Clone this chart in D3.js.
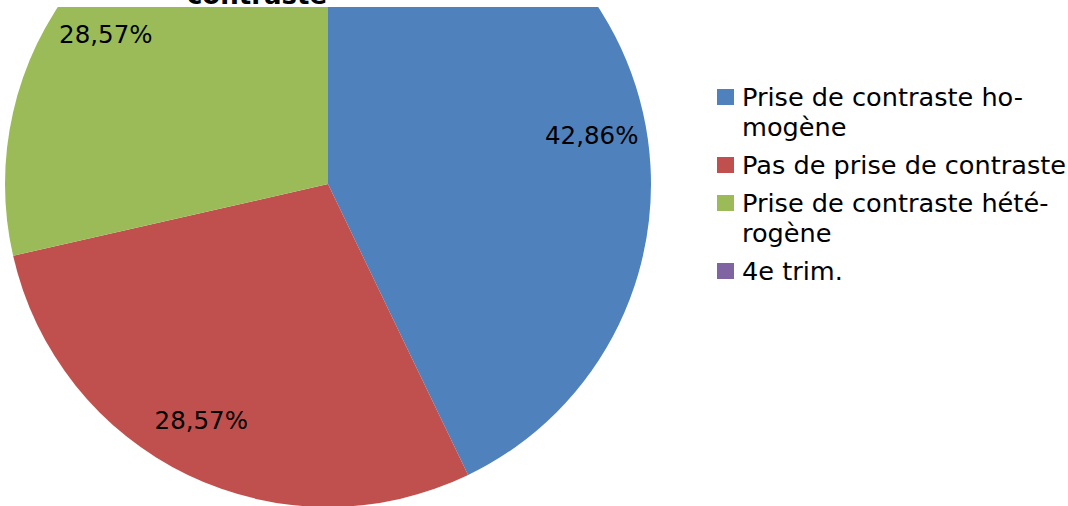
<!DOCTYPE html>
<html>
<head>
<meta charset="utf-8">
<script src="https://cdn.jsdelivr.net/npm/d3@7"></script>
<style>
  html, body { margin: 0; padding: 0; background: #fff; }
  svg { display: block; }
  text { font-family: "DejaVu Sans", sans-serif; }
</style>
</head>
<body>
<svg id="chart" width="1068" height="506"></svg>
<script>
const categories = ["Prise de contraste homogène", "Pas de prise de contraste", "Prise de contraste hétérogène", "4e trim."];
const legendLines = [["Prise de contraste ho-", "mogène"], ["Pas de prise de contraste"], ["Prise de contraste hété-", "rogène"], ["4e trim."]];
const values = [3, 2, 2, 0];
const colors = ["#4F81BD", "#C0504D", "#9BBB59", "#8064A2"];
const titleText = "contraste";

const svg = d3.select("#chart");
const cx = 328, cy = 184, R = 323;
const plotTop = 7;

svg.append("defs").append("clipPath").attr("id", "plotClip")
  .append("rect").attr("x", 0).attr("y", plotTop).attr("width", 700).attr("height", 506);

// Title (only its last line is visible in the frame)
svg.append("text")
  .attr("x", 257).attr("y", 4)
  .attr("text-anchor", "middle")
  .attr("font-size", 26).attr("font-weight", "bold")
  .attr("fill", "#000")
  .text(titleText);

const total = d3.sum(values);
const pie = d3.pie().sort(null).value(d => d)(values);
const arc = d3.arc().innerRadius(0).outerRadius(R);

const g = svg.append("g").attr("clip-path", "url(#plotClip)")
  .append("g").attr("transform", `translate(${cx},${cy})`);

g.selectAll("path").data(pie).join("path")
  .attr("d", arc)
  .attr("fill", (d, i) => colors[i]);

// label placement: on a circle of 0.83R, slid along it to stay below the plot top
const rl = R * 0.83, angOff = 2.5 * Math.PI / 180, minY = plotTop + 27 - cy;
function labelPos(d) {
  const a = (d.startAngle + d.endAngle) / 2 + angOff;
  let x = rl * Math.sin(a), y = -rl * Math.cos(a);
  if (y < minY) { y = minY; x = Math.sign(x) * Math.sqrt(rl * rl - y * y); }
  return [x, y];
}
const fmt = v => (v / total * 100).toFixed(2).replace(".", ",") + "%";
g.selectAll("text.lbl").data(pie.filter(d => d.value > 0)).join("text")
  .attr("class", "lbl")
  .attr("transform", d => { const c = labelPos(d); return `translate(${c[0]},${c[1]})`; })
  .attr("text-anchor", "middle")
  .attr("dy", "0.35em")
  .attr("font-size", 24.5)
  .attr("fill", "#000")
  .text(d => fmt(d.value));

// Legend
const lg = svg.append("g");
let y = 106;
legendLines.forEach((lines, i) => {
  lg.append("rect").attr("x", 717).attr("y", y - 17).attr("width", 17).attr("height", 16).attr("fill", colors[i]);
  lines.forEach((ln, j) => {
    lg.append("text").attr("x", 742).attr("y", y + j * 30)
      .attr("font-size", 25.6).attr("fill", "#000").text(ln);
  });
  y += (lines.length - 1) * 30 + 38;
});
</script>
</body>
</html>
